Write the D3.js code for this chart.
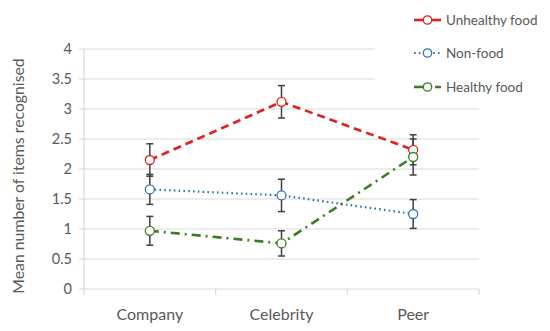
<!DOCTYPE html>
<html>
<head>
<meta charset="utf-8">
<script src="https://cdn.jsdelivr.net/npm/d3@7"></script>
<style>
  body { margin: 0; background: #fff; }
  svg text { font-family: Lato, "Open Sans", sans-serif; fill: #595959; }
</style>
</head>
<body>
<script>
// data
const categories = ["Company", "Celebrity", "Peer"];
const seriesNames = ["Unhealthy food", "Non-food", "Healthy food"];
const unhealthy = [2.15, 3.12, 2.32];
const unhealthyErr = [0.27, 0.27, 0.25];
const nonfood = [1.66, 1.56, 1.25];
const nonfoodErr = [0.25, 0.27, 0.24];
const healthy = [0.97, 0.76, 2.2];
const healthyErr = [0.24, 0.21, 0.3];
const yTicks = [0, 0.5, 1, 1.5, 2, 2.5, 3, 3.5, 4];

const w = 550, h = 331;
const pLeft = 84, pRight = 479, pTop = 49, pBottom = 289;

const series = [
  { name: seriesNames[0], vals: unhealthy, err: unhealthyErr, color: "#e0201b", dash: "8,5", width: 2.6 },
  { name: seriesNames[1], vals: nonfood, err: nonfoodErr, color: "#2e75b6", dash: "1.6,3.2", width: 2.2 },
  { name: seriesNames[2], vals: healthy, err: healthyErr, color: "#3a7d22", dash: "9,5,2,5", width: 2.6 }
];

const svg = d3.select("body").append("svg")
  .attr("width", w)
  .attr("height", h);

const x = d3.scaleBand().domain(categories).range([pLeft, pRight]);
const y = d3.scaleLinear().domain([0, 4]).range([pBottom, pTop]);

// gridlines
svg.append("g")
  .selectAll("line")
  .data(yTicks)
  .enter()
  .append("line")
  .attr("x1", pLeft - 5)
  .attr("x2", pRight)
  .attr("y1", d => y(d))
  .attr("y2", d => y(d))
  .attr("stroke", "#d9d9d9")
  .attr("stroke-width", 1.2);

// y axis line
svg.append("line")
  .attr("x1", pLeft).attr("x2", pLeft)
  .attr("y1", pTop).attr("y2", pBottom)
  .attr("stroke", "#d9d9d9")
  .attr("stroke-width", 1.2);

// category boundary ticks
svg.append("g")
  .selectAll("line")
  .data([0, 1, 2, 3])
  .enter()
  .append("line")
  .attr("x1", i => pLeft + i * x.step())
  .attr("x2", i => pLeft + i * x.step())
  .attr("y1", pBottom)
  .attr("y2", pBottom + 6)
  .attr("stroke", "#d9d9d9")
  .attr("stroke-width", 1.2);

// y tick labels
svg.append("g")
  .selectAll("text")
  .data(yTicks)
  .enter()
  .append("text")
  .attr("x", 72)
  .attr("y", d => y(d) + 5)
  .attr("text-anchor", "end")
  .style("font-size", "14.5px")
  .text(d => d);

// x labels
svg.append("g")
  .selectAll("text")
  .data(categories)
  .enter()
  .append("text")
  .attr("x", d => x(d) + x.bandwidth() / 2)
  .attr("y", 320)
  .attr("text-anchor", "middle")
  .style("font-size", "16px")
  .text(d => d);

// y title
svg.append("text")
  .attr("transform", "translate(24,176) rotate(-90)")
  .attr("text-anchor", "middle")
  .style("font-size", "15.8px")
  .text("Mean number of items recognised");

// legend background covers top gridlines
svg.append("rect")
  .attr("x", 375).attr("y", 0)
  .attr("width", 175).attr("height", 100)
  .attr("fill", "#fff");

const cx = d => x(d) + x.bandwidth() / 2;

// lines
series.forEach(s => {
  const line = d3.line()
    .x((d, i) => cx(categories[i]))
    .y(d => y(d));
  svg.append("path")
    .datum(s.vals)
    .attr("d", line)
    .attr("fill", "none")
    .attr("stroke", s.color)
    .attr("stroke-width", s.width)
    .attr("stroke-dasharray", s.dash);
});

// error bars
series.forEach(s => {
  const g = svg.append("g");
  s.vals.forEach((v, i) => {
    const px = cx(categories[i]);
    g.append("line")
      .attr("x1", px).attr("x2", px)
      .attr("y1", y(v - s.err[i])).attr("y2", y(v + s.err[i]))
      .attr("stroke", "#404040").attr("stroke-width", 1.5);
    [v - s.err[i], v + s.err[i]].forEach(e => {
      g.append("line")
        .attr("x1", px - 3.5).attr("x2", px + 3.5)
        .attr("y1", y(e)).attr("y2", y(e))
        .attr("stroke", "#404040").attr("stroke-width", 1.5);
    });
  });
});

// markers
series.forEach(s => {
  svg.append("g")
    .selectAll("circle")
    .data(s.vals)
    .enter()
    .append("circle")
    .attr("cx", (d, i) => cx(categories[i]))
    .attr("cy", d => y(d))
    .attr("r", 4.5)
    .attr("fill", "#fff")
    .attr("stroke", s.color)
    .attr("stroke-width", 1.3);
});

// legend
const legendY = [20, 53, 87];
const legendDash = ["none", "1.6,3.2", "9,5,2,5"];
series.forEach((s, i) => {
  const ly = legendY[i];
  const g = svg.append("g");
  g.append("line")
    .attr("x1", 414).attr("x2", 441)
    .attr("y1", ly).attr("y2", ly)
    .attr("stroke", s.color)
    .attr("stroke-width", s.width)
    .attr("stroke-dasharray", legendDash[i]);
  g.append("circle")
    .attr("cx", 427.5).attr("cy", ly)
    .attr("r", 4.2)
    .attr("fill", "#fff")
    .attr("stroke", s.color)
    .attr("stroke-width", 1.3);
  g.append("text")
    .attr("x", 446)
    .attr("y", ly + 5)
    .style("font-size", "13.5px")
    .text(s.name);
});
</script>
</body>
</html>
